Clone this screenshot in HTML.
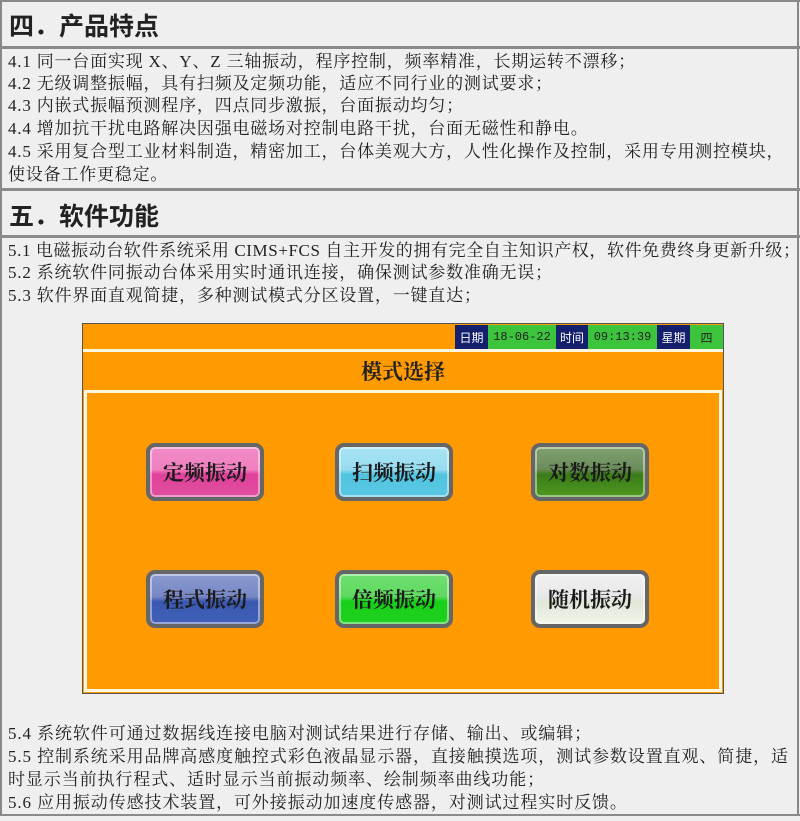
<!DOCTYPE html>
<html><head><meta charset="utf-8"><style>
*{margin:0;padding:0;box-sizing:border-box}
body{width:800px;height:821px;background:#efefef;position:relative;overflow:hidden;font-family:"Liberation Serif","Noto Serif CJK SC",serif;color:#222}
.a{position:absolute}
.hl{position:absolute;left:0;width:800px;height:3px;background:#8a8a8a}
.t{position:absolute;left:8px;font-size:17px;line-height:22px;white-space:nowrap;letter-spacing:0.8px}
.h{position:absolute;left:9px;font-family:"Liberation Sans","Noto Sans CJK SC",sans-serif;font-weight:bold;font-size:25px;white-space:nowrap;color:#222}
.btn{position:absolute;width:118px;height:58px;border-radius:9px;border:4px solid #666;display:flex;align-items:center;justify-content:center;font-size:21px;font-weight:bold;color:#1a1a1a;font-family:"Liberation Serif","Noto Serif CJK SC",serif;box-shadow:inset 0 0 0 2px rgba(255,255,255,.45)}
.nv{position:absolute;top:325px;height:24px;background:#14206e;color:#fff;font-size:12px;display:flex;align-items:center;justify-content:center;font-family:"Liberation Sans","Noto Sans CJK SC",sans-serif}
.gr{position:absolute;top:325px;height:24px;background:#3cc43c;color:#222;font-size:12px;display:flex;align-items:center;justify-content:center;font-family:"Liberation Mono",monospace}
</style></head><body>
<div class="a" style="left:0;top:0;width:2px;height:816px;background:#888"></div>
<div class="a" style="left:797px;top:0;width:2px;height:816px;background:#888"></div>
<div class="hl" style="top:0;height:2px"></div>
<div class="h" style="top:7px">四．产品特点</div>
<div class="hl" style="top:46px"></div>
<div class="t" style="top:51px">4.1 同一台面实现 X、Y、Z 三轴振动，程序控制，频率精准，长期运转不漂移；</div>
<div class="t" style="top:73px">4.2 无级调整振幅，具有扫频及定频功能，适应不同行业的测试要求；</div>
<div class="t" style="top:95px">4.3 内嵌式振幅预测程序，四点同步激振，台面振动均匀；</div>
<div class="t" style="top:118px">4.4 增加抗干扰电路解决因强电磁场对控制电路干扰，台面无磁性和静电。</div>
<div class="t" style="top:141px">4.5 采用复合型工业材料制造，精密加工，台体美观大方，人性化操作及控制，采用专用测控模块，</div>
<div class="t" style="top:164px">使设备工作更稳定。</div>
<div class="hl" style="top:188px"></div>
<div class="h" style="top:197px">五．软件功能</div>
<div class="hl" style="top:235px"></div>
<div class="t" style="top:240px;letter-spacing:0.6px">5.1 电磁振动台软件系统采用 CIMS+FCS 自主开发的拥有完全自主知识产权，软件免费终身更新升级；</div>
<div class="t" style="top:262px">5.2 系统软件同振动台体采用实时通讯连接，确保测试参数准确无误；</div>
<div class="t" style="top:285px">5.3 软件界面直观简捷，多种测试模式分区设置，一键直达；</div>

<div class="a" style="left:82px;top:323px;width:642px;height:371px;background:#ff9a00;border:1px solid #555"></div>
<div class="a" style="left:83px;top:349px;width:640px;height:3px;background:#fff8e0"></div>
<div class="nv" style="left:455px;width:33px">日期</div>
<div class="gr" style="left:488px;width:68px">18-06-22</div>
<div class="nv" style="left:556px;width:32px">时间</div>
<div class="gr" style="left:588px;width:69px">09:13:39</div>
<div class="nv" style="left:657px;width:33px">星期</div>
<div class="gr" style="left:690px;width:33px;font-family:'Noto Sans CJK SC',sans-serif">四</div>
<div class="a" style="left:83px;top:352px;width:640px;height:38px;display:flex;align-items:center;justify-content:center;font-size:21px;font-weight:bold;color:#222">模式选择</div>
<div class="a" style="left:84px;top:390px;width:638px;height:302px;border:3px solid #fff8e0;background:#ff9a00"></div>

<div class="btn" style="left:146px;top:443px;background:linear-gradient(#f08cc8 0%,#f080c0 45%,#e0409a 55%,#e0509e 100%)">定频振动</div>
<div class="btn" style="left:335px;top:443px;background:linear-gradient(#a8e4f4 0%,#98dcf0 45%,#50c4e0 55%,#5ac8e4 100%)">扫频振动</div>
<div class="btn" style="left:531px;top:443px;background:linear-gradient(#80a070 0%,#6a8c5a 45%,#3a7a18 55%,#4e9a20 100%)">对数振动</div>
<div class="btn" style="left:146px;top:570px;background:linear-gradient(#8a9ad0 0%,#7888c4 45%,#3a58b0 55%,#4060b8 100%)">程式振动</div>
<div class="btn" style="left:335px;top:570px;background:linear-gradient(#70e070 0%,#60d860 45%,#18d018 55%,#20d020 100%)">倍频振动</div>
<div class="btn" style="left:531px;top:570px;background:linear-gradient(#f0f0f0 0%,#e8e8e8 45%,#e0e8d8 55%,#f0f4e8 100%)">随机振动</div>

<div class="t" style="top:723px;letter-spacing:0.9px">5.4 系统软件可通过数据线连接电脑对测试结果进行存储、输出、或编辑；</div>
<div class="t" style="top:746px;letter-spacing:0.9px">5.5 控制系统采用品牌高感度触控式彩色液晶显示器，直接触摸选项，测试参数设置直观、简捷，适</div>
<div class="t" style="top:769px;letter-spacing:0.9px">时显示当前执行程式、适时显示当前振动频率、绘制频率曲线功能；</div>
<div class="t" style="top:792px;letter-spacing:0.9px">5.6 应用振动传感技术装置，可外接振动加速度传感器，对测试过程实时反馈。</div>
<div class="hl" style="top:814px;height:2px"></div>
</body></html>
